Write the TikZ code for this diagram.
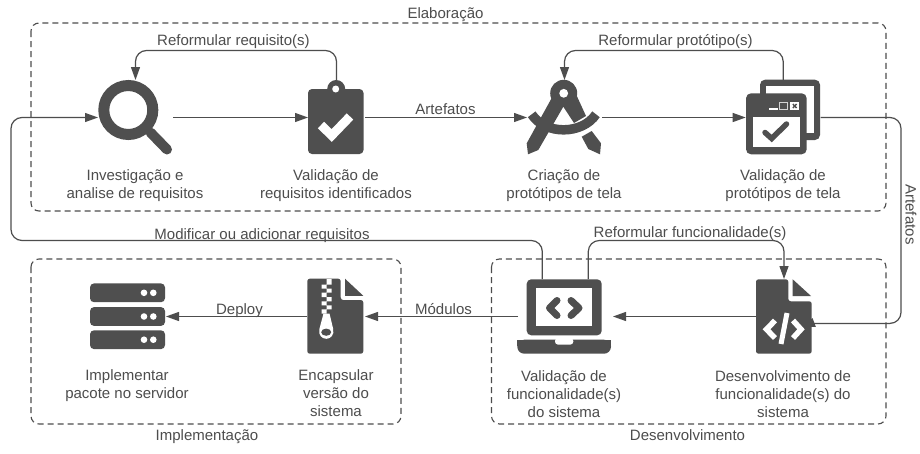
\documentclass[tikz,border=0pt]{standalone}
\usepackage{fontspec}
\setmainfont{Liberation Sans}
\usetikzlibrary{arrows.meta}
\definecolor{ink}{HTML}{4D4D4D}
\definecolor{icon}{HTML}{4F4F4F}
\tikzset{
  slot/.style={inner sep=0pt,outer sep=0pt,minimum width=#1,minimum height=75pt},
  lbl/.style={inner sep=0pt,text=ink,align=center,font=\fontsize{15}{18}\selectfont},
  one/.style={lbl,anchor=base},
  flow/.style={draw=ink,line width=1.2pt,-{Triangle[length=13pt,width=9pt]}},
  loopline/.style={flow,rounded corners=11pt},
  group/.style={draw=ink,line width=1.1pt,dash pattern=on 6pt off 4pt,rounded corners=8pt},
  solid icon/.style={fill=icon,draw=none},
  cutout/.style={draw=white,line cap=round,line join=round},
}
\begin{document}
\begin{tikzpicture}[x=1pt,y=-1pt]
\useasboundingbox[fill=white] (0,0) rectangle (920,453);
% groups
\draw[group] (31,23) rectangle (886,211);
\draw[group] (31,259) rectangle (401,424);
\draw[group] (491.5,259) rectangle (886,424);
\node[one] (gE) at (445.5,18.5) {Elaboração};
\node[one] (gI) at (207,440) {Implementação};
\node[one] (gD) at (687.5,440) {Desenvolvimento};
% slots for the icons
\node[slot=75pt]  (lupa) at (135.5,117.5) {};
\node[slot=57pt]  (clip) at (336.5,117.5) {};
\node[slot=75pt]  (comp) at (564.5,117.5) {};
\node[slot=75pt]  (wind) at (783.2,117.5) {};
\node[slot=76pt]  (serv) at (128,316.5) {};
\node[slot=58pt]  (zipf) at (336,316.5) {};
\node[slot=95pt]  (lapt) at (565.5,316.5) {};
\node[slot=56pt]  (codf) at (784,316.5) {};
\coordinate (lapL) at (542.3,279.2);
\coordinate (lapR) at (588.3,279.2);
\coordinate (leftX) at (11,240.5);
\coordinate (rightX) at (901,323.4);
\coordinate (docA) at (816,323.4);
\coordinate (docB) at (802,327);
% captions
\node[lbl] (t1) at (135,186) {Investigação e\\analise de requisitos};
\node[lbl] (t2) at (336,186) {Validação de\\requisitos identificados};
\node[lbl] (t3) at (564,186) {Criação de\\protótipos de tela};
\node[lbl] (t4) at (783,186) {Validação de\\protótipos de tela};
\node[lbl] (t5) at (127,386) {Implementar\\pacote no servidor};
\node[lbl] (t6) at (336,393.5) {Encapsular\\versão do\\sistema};
\node[lbl] (t7) at (564,394) {Validação de\\funcionalidade(s)\\do sistema};
\node[lbl] (t8) at (783,394) {Desenvolvimento de\\funcionalidade(s) do\\sistema};
% connector labels
\node[one] (c1) at (233.5,45) {Reformular requisito(s)};
\node[one] (c2) at (675.5,45) {Reformular protótipo(s)};
\node[one] (c3) at (445.5,114) {Artefatos};
\node[one] (c4) at (262,239) {Modificar ou adicionar requisitos};
\node[one] (c5) at (690,237) {Reformular funcionalidade(s)};
\node[one] (c6) at (443.5,314) {Módulos};
\node[one] (c7) at (239.5,314) {Deploy};
\node[lbl,rotate=-90] (c8) at (911,214.5) {Artefatos};
% connectors
\draw[flow] (lupa.east) -- (clip.west);
\draw[flow] (clip.east) -- (comp.west);
\draw[flow] (comp.east) -- (wind.west);
\draw[loopline] (clip.north) -- ++(0,-29.5) -| (lupa.north);
\draw[loopline] (wind.north) -- ++(0,-29.5) -| (comp.north);
\draw[loopline] (lapL) |- (leftX) |- (lupa.west);
\draw[loopline] (lapR) -- ++(0,-38.7) -| (codf.north);
\draw[flow] (codf.west) -- (lapt.east);
\draw[flow] (lapt.west) -- (zipf.east);
\draw[flow] (zipf.west) -- (serv.east);
\draw[flow,rounded corners=11pt] (wind.east) -| (rightX) -- (docA) .. controls +(-4,0) and +(4,-1.5) .. (docB);
% magnifier
\draw[icon,line width=11pt] (128.3,110) circle (24.5pt);
\draw[icon,line width=10pt,line cap=round] (150.5,132.5) -- (167,149.5);
% clipboard
\fill[icon] (336.2,89) circle (9pt);
\fill[solid icon,rounded corners=4pt] (308,89) rectangle (363.5,154);
\fill[white] (335.7,89) circle (3.5pt);
\draw[cutout,line width=9pt,line cap=butt,line join=miter] (321,125) -- (331.7,135.5) -- (350,116.5);
% compass
\fill[icon] (563.7,93.3) circle (13.5pt);
\fill[icon,line join=round] (551.7,98) -- (526.7,143.3) -- (528,154.3) -- (538.3,150) -- (563.3,106.7) -- (574,123) -- (586,116) -- (575,92) -- cycle;
\fill[icon] (581.7,136.7) -- (591.7,131) -- (601,143.3) -- (600,154.3) -- (588.3,149) -- cycle;
\draw[icon,line width=9.5pt] (531.7,114.3) .. controls (545,135) and (582,135) .. (596,114.3);
\fill[white] (563.7,93.3) circle (4.4pt);
% prototype windows
\fill[solid icon,rounded corners=5pt] (760,79.7) rectangle (820,140);
\fill[white] (766,85.7) rectangle (814,133.3);
\fill[solid icon,rounded corners=5pt] (746,93.3) rectangle (806.7,154.3);
\fill[white] (752.7,116.7) rectangle (800,147.3);
\fill[white] (769.3,108.3) rectangle (777.7,109.8);
\draw[white!75!icon,line width=.9pt] (779.6,102.4) rectangle (787.2,109.6);
\fill[white] (790,102.3) rectangle (799.3,109.7);
\draw[icon,line width=1.4pt] (792.8,104) -- (796.5,108) (796.5,104) -- (792.8,108);
\draw[icon,line width=5.5pt,line cap=round,line join=miter] (765,132.5) -- (771.7,138.5) -- (786.5,124);
% server
\foreach \yy in {292.8,316.5,339.7}{
  \fill[solid icon,rounded corners=4pt] (90,\yy-9.4) rectangle (165,\yy+9.4);
  \fill[white] (144,\yy) circle (3.3pt) (153.3,\yy) circle (3.3pt);
}
% zip file
\fill[solid icon,rounded corners=2.5pt] (307.3,278.7) -- (340.7,278.7) -- (340.7,300) -- (363.3,300) -- (363.3,353.7) -- (307.3,353.7) -- cycle;
\fill[solid icon] (345,278.7) -- (363.3,295.8) -- (345,295.8) -- cycle;
\fill[white] (326.7,279) rectangle (331.5,284.7) (321.7,284.7) rectangle (326.7,288.7) (326.7,288.7) rectangle (331.5,292.7) (321.7,292.7) rectangle (326.7,297) (326.7,297) rectangle (331.5,301.3) (321.7,301.3) rectangle (326.7,305.3) (326.7,305.3) rectangle (331.5,309.3) (321.7,309.3) rectangle (326.7,313.5);
\fill[white] (323.5,313.5) -- (329.5,313.5) -- (333.2,329) .. controls (334.5,335) and (330.5,338.8) .. (326.3,338.8) .. controls (322,338.8) and (318,335) .. (319.4,329) -- cycle;
\fill[icon] (326.2,332.2) ellipse [x radius=5pt,y radius=3.6pt];
% laptop
\fill[solid icon,rounded corners=4.5pt] (526.7,279.3) rectangle (601.7,335.3);
\fill[white] (536,288) rectangle (592.3,326);
\draw[icon,line width=7pt,line cap=round,line join=round] (557,300.5) -- (549.5,308) -- (557,315.5);
\draw[icon,line width=7pt,line cap=round,line join=round] (571,300.5) -- (579,308) -- (571,315.5);
\fill[icon,rounded corners=7pt] (517.3,339.7) -- (517.3,353.7) -- (611,353.7) -- (611,339.7) -- cycle;
\fill[icon] (517.3,339.7) rectangle (611,346);
\fill[white,rounded corners=3pt] (555,338) -- (555,344.6) -- (573.3,344.6) -- (573.3,338) -- cycle;
% code file
\fill[solid icon,rounded corners=2.5pt] (756,279.3) -- (788.3,279.3) -- (788.3,301.3) -- (811.7,301.3) -- (811.7,353.7) -- (756,353.7) -- cycle;
\fill[solid icon] (792.7,279.3) -- (811,296) -- (792.7,296) -- cycle;
\draw[cutout,line width=5.5pt,line cap=butt,line join=miter] (775,320.5) -- (766.5,329.3) -- (775,338);
\draw[cutout,line width=5.5pt,line cap=butt,line join=miter] (793,320.5) -- (801,329.3) -- (793,338);
\draw[cutout,line width=5pt,line cap=butt] (787,313) -- (781,344);
\end{tikzpicture}
\end{document}
